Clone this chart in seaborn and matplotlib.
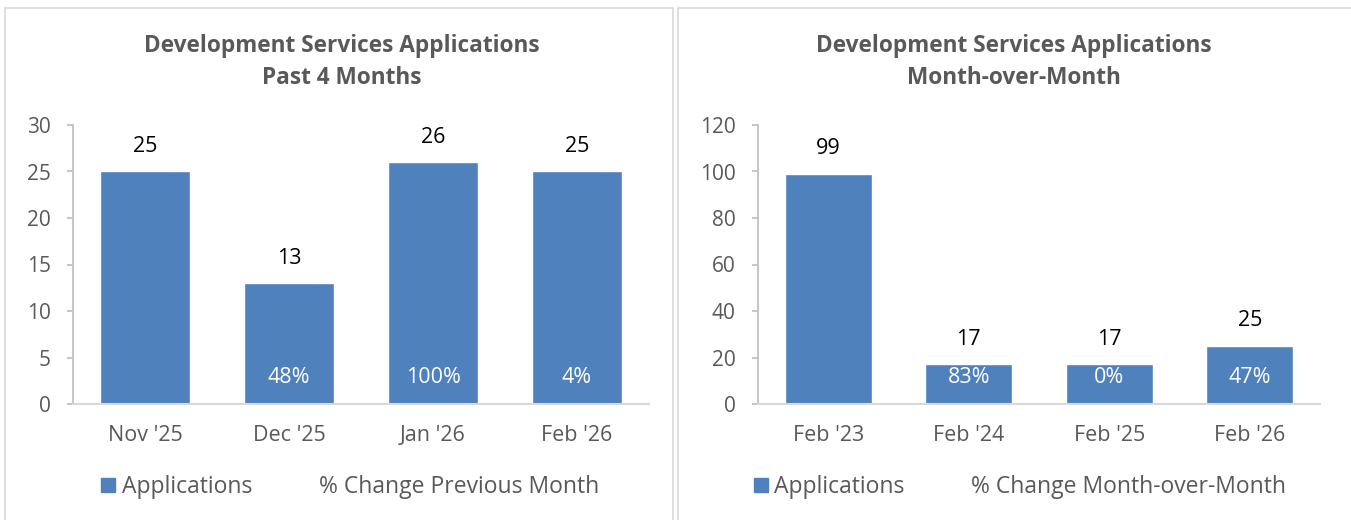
import matplotlib
matplotlib.use("Agg")
import matplotlib.pyplot as plt
from matplotlib.patches import Rectangle, Patch
import seaborn as sns
import pandas as pd

# data
left_months = ["Nov '25", "Dec '25", "Jan '26", "Feb '26"]
left_apps = [25, 13, 26, 25]
left_pct = [None, "48%", "100%", "4%"]

right_months = ["Feb '23", "Feb '24", "Feb '25", "Feb '26"]
right_apps = [99, 17, 17, 25]
right_pct = [None, "83%", "0%", "47%"]

titles = ["Development Services Applications\nPast 4 Months",
          "Development Services Applications\nMonth-over-Month"]
legend_labels = ["% Change Previous Month", "% Change Month-over-Month"]
yticks_sets = [[0, 5, 10, 15, 20, 25, 30], [0, 20, 40, 60, 80, 100, 120]]

sns.set_theme(style="white")
plt.rcParams['font.family'] = ['Open Sans', 'DejaVu Sans']

BLUE = "#4f81bd"
GREY = "#595959"
LINE = "#d9d9d9"

W, H = 1351, 520
fig = plt.figure(figsize=(13.51, 5.2), dpi=100)

# panel borders
for x0, x1 in [(5, 673), (678, 1360)]:
    fig.patches.append(Rectangle((x0 / W, -0.05), (x1 - x0) / W, 1.05 - 8 / H,
                                 transform=fig.transFigure, fill=False,
                                 edgecolor=LINE, linewidth=1.2))

axes_px = [(73, 649), (758, 1320)]
title_cx = [342, 1014]
legend_cx = [350, 1020]
panels = [(left_months, left_apps, left_pct), (right_months, right_apps, right_pct)]

for i, (months, apps, pct) in enumerate(panels):
    x0, x1 = axes_px[i]
    ax = fig.add_axes([x0 / W, 1 - 404 / H, (x1 - x0) / W, (404 - 125) / H])
    df = pd.DataFrame({"month": months, "apps": apps})
    sns.barplot(data=df, x="month", y="apps", color=BLUE, width=0.62,
                saturation=1, ax=ax)
    yt = yticks_sets[i]
    ax.set_ylim(yt[0], yt[-1])
    ax.set_xlim(-0.5, len(months) - 0.5)
    ax.set_yticks(yt)
    ax.set_xlabel("")
    ax.set_ylabel("")
    for s in ["top", "right"]:
        ax.spines[s].set_visible(False)
    ax.spines["left"].set_color("#bfbfbf")
    ax.spines["bottom"].set_color(LINE)
    ax.spines["bottom"].set_linewidth(1.5)
    ax.tick_params(axis="y", left=True, length=4, color="#bfbfbf", pad=12,
                   labelsize=15, labelcolor=GREY)
    ax.tick_params(axis="x", bottom=False, pad=9, labelsize=15.5, labelcolor=GREY)

    for j, v in enumerate(apps):
        ax.annotate(str(v), (j, v), xytext=(0, 18), textcoords="offset points",
                    ha="center", va="center", fontsize=15.5, color="black")
        if pct[j] is not None:
            ax.annotate(pct[j], (j, 0), xytext=(0, 19), textcoords="offset points",
                        ha="center", va="center", fontsize=15.5, color="white")

    fig.text(title_cx[i] / W, 1 - 62 / H, titles[i], ha="center", va="center",
             fontsize=16.3, fontweight="bold", color=GREY, linespacing=1.5)

    handles = [Patch(color=BLUE), Patch(color="none")]
    fig.legend(handles, ["Applications", legend_labels[i]],
               loc="center", bbox_to_anchor=(legend_cx[i] / W, 1 - 487 / H),
               ncol=2, frameon=False, fontsize=16.5, labelcolor=GREY,
               handlelength=0.6, handleheight=0.6, handletextpad=0.3,
               columnspacing=2.0)

fig.savefig("out.png", dpi=100)
